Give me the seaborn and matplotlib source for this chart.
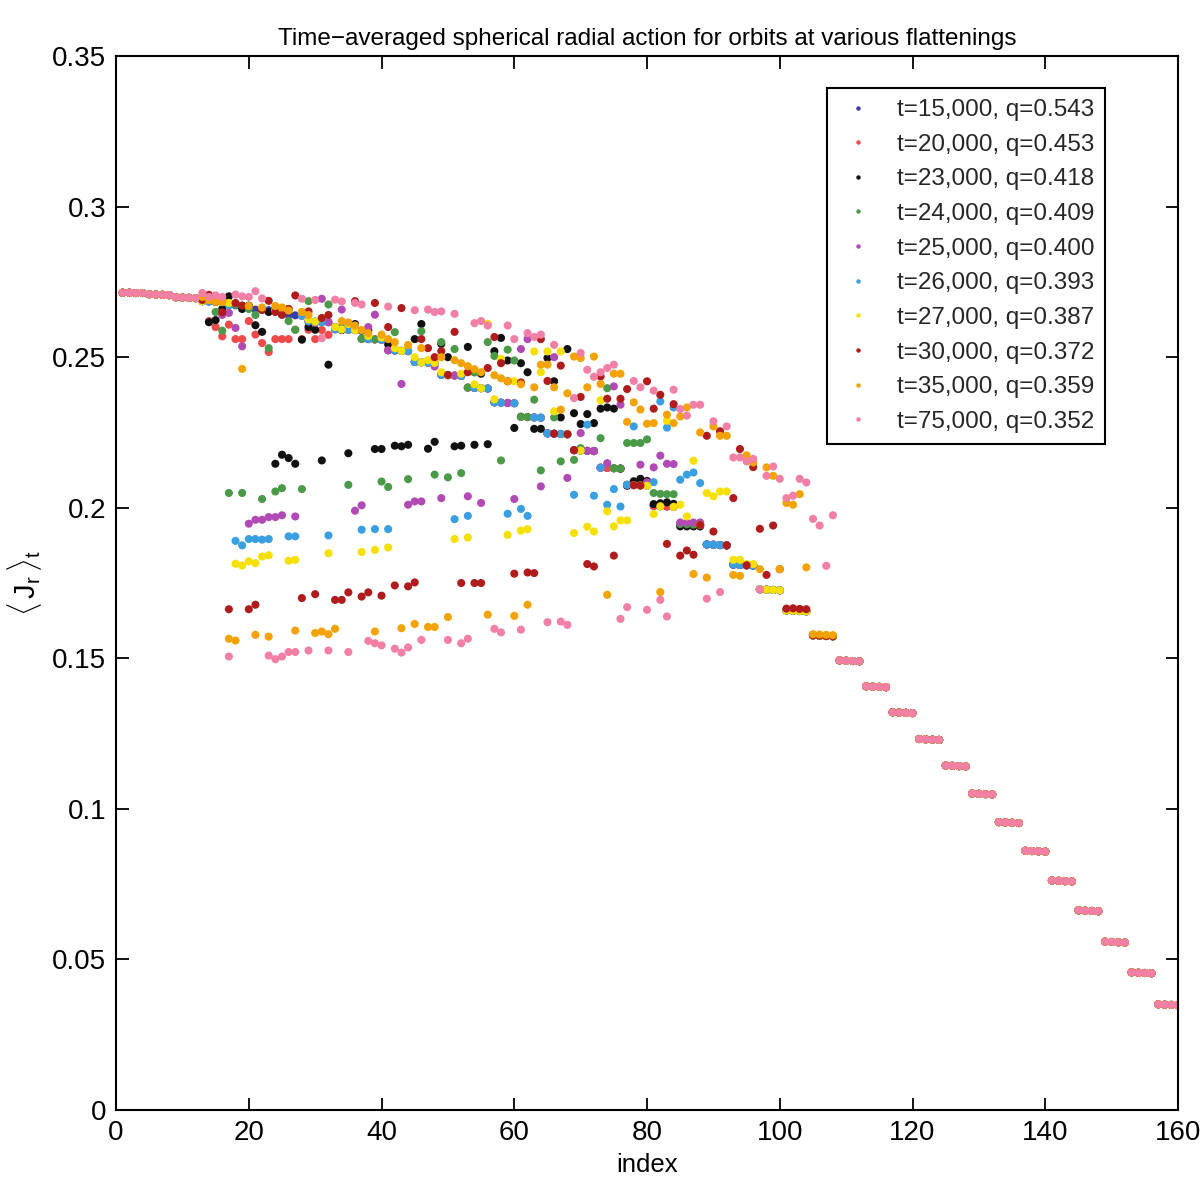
import numpy as np
import pandas as pd
import matplotlib
matplotlib.use("Agg")
import matplotlib.pyplot as plt
import seaborn as sns
from matplotlib.ticker import FormatStrFormatter, MultipleLocator

# ---------------- data (values in units of 1e-4) ----------------
# orbit index 1..12 (common to all runs)
HEAD = [2714, 2714, 2713, 2713, 2709, 2708, 2707, 2706, 2699, 2698, 2697, 2696]
# orbit index 109..160 (common to all runs)
TAIL = [1493, 1492, 1491, 1490, 1407, 1406, 1405, 1404, 1321, 1320, 1319, 1318,
        1232, 1231, 1230, 1229, 1144, 1143, 1142, 1141, 1051, 1050, 1049, 1048,
        956, 955, 954, 953, 861, 860, 859, 858, 762, 761, 760, 759,
        663, 662, 661, 660, 559, 558, 557, 556, 457, 456, 455, 454,
        351, 350, 349, 348]

# orbit index 13..108 for each run
MID_15000 = [2686, 2685, 2684, 2683, 2673, 2672, 2671, 2670, 2658, 2657, 2656, 2655,
             2641, 2640, 2639, 2638, 2619, 2618, 2617, 2616, 2593, 2592, 2591, 2590,
             2561, 2560, 2559, 2558, 2523, 2522, 2521, 2520, 2484, 2483, 2482, 2481,
             2441, 2440, 2439, 2438, 2399, 2398, 2397, 2396, 2350, 2349, 2348, 2347,
             2302, 2301, 2300, 2299, 2247, 2246, 2245, 2244, 2191, 2190, 2189, 2188,
             2133, 2132, 2131, 2130, 2076, 2075, 2074, 2073, 2006, 2005, 2004, 2003,
             1946, 1945, 1944, 1943, 1878, 1877, 1876, 1875, 1811, 1810, 1809, 1808,
             1729, 1728, 1727, 1726, 1659, 1658, 1657, 1656, 1576, 1575, 1574, 1573]
MID_20000 = [2686, 2620, 2600, 2569, 2608, 2560, 2560, 2620, 2575, 2547, 2517, 2560,
             2560, 2560, 2591, 2560, 2591, 2560, 2590, 2574, 2593, 2592, 2591, 2590,
             2561, 2560, 2559, 2558, 2523, 2522, 2521, 2520, 2484, 2483, 2482, 2481,
             2441, 2440, 2439, 2438, 2399, 2398, 2397, 2396, 2350, 2349, 2348, 2347,
             2302, 2301, 2300, 2299, 2247, 2246, 2245, 2244, 2191, 2190, 2189, 2188,
             2133, 2132, 2131, 2130, 2076, 2075, 2074, 2073, 2006, 2005, 2004, 2003,
             1946, 1945, 1944, 1943, 1878, 1877, 1876, 1875, 1811, 1810, 1809, 1808,
             1729, 1728, 1727, 1726, 1659, 1658, 1657, 1656, 1576, 1575, 1574, 1573]
MID_23000 = [2691, 2616, 2623, 2660, 2702, 2677, 2660, 2671, 2606, 2584, 2650, 2146,
             2176, 2165, 2146, 2558, 2600, 2591, 2157, 2475, 2600, 2590, 2181, 2610,
             2588, 2589, 2195, 2195, 2542, 2206, 2204, 2209, 2560, 2610, 2196, 2219,
             2544, 2500, 2204, 2206, 2534, 2209, 2445, 2211, 2520, 2564, 2489, 2265,
             2480, 2450, 2262, 2262, 2497, 2420, 2300, 2527, 2314, 2278, 2311, 2281,
             2329, 2333, 2329, 2130, 2073, 2088, 2096, 2089, 2012, 2015, 2018, 2013,
             1938, 1938, 1938, 1938, 1878, 1877, 1876, 1875, 1811, 1810, 1809, 1808,
             1729, 1728, 1727, 1726, 1659, 1658, 1657, 1656, 1576, 1575, 1574, 1573]
MID_24000 = [2686, 2685, 2650, 2588, 2049, 2674, 2049, 2660, 2640, 2029, 2530, 2054,
             2065, 2620, 2591, 2062, 2686, 2617, 2616, 2675, 2593, 2600, 2076, 2590,
             2561, 2570, 2559, 2087, 2069, 2583, 2521, 2095, 2484, 2586, 2482, 2110,
             2550, 2101, 2527, 2115, 2399, 2449, 2397, 2550, 2504, 2157, 2525, 2489,
             2302, 2301, 2359, 2124, 2247, 2300, 2154, 2244, 2159, 2198, 2189, 2189,
             2231, 2397, 2131, 2130, 2215, 2215, 2215, 2227, 2049, 2046, 2045, 2045,
             1946, 1945, 1944, 1943, 1878, 1877, 1876, 1875, 1811, 1810, 1809, 1808,
             1729, 1728, 1727, 1726, 1659, 1658, 1657, 1656, 1576, 1575, 1574, 1573]
MID_25000 = [2686, 2685, 2684, 2640, 2647, 2597, 2536, 1947, 1960, 1960, 1969, 1969,
             1975, 2660, 1971, 2638, 2619, 2614, 2694, 2616, 2593, 2658, 2591, 1990,
             2008, 2600, 2641, 2558, 2523, 2522, 2411, 2010, 2021, 2021, 2482, 2469,
             2032, 2440, 2439, 2438, 2038, 2398, 2016, 2396, 2350, 2349, 2348, 2029,
             2527, 2560, 2300, 2071, 2247, 2500, 2245, 2099, 2191, 2248, 2189, 2188,
             2133, 2148, 2403, 2342, 2076, 2075, 2143, 2085, 2134, 2173, 2146, 2145,
             1951, 1951, 1951, 1951, 1878, 1877, 1876, 1875, 1811, 1810, 1809, 1808,
             1729, 1728, 1727, 1726, 1659, 1658, 1657, 1656, 1576, 1575, 1574, 1573]
MID_26000 = [2686, 2685, 2684, 2683, 2673, 1890, 1875, 1896, 1896, 1894, 1896, 2655,
             2641, 1905, 1905, 2638, 2619, 2618, 2617, 1908, 2593, 2592, 2591, 2590,
             1927, 2560, 1929, 2558, 1929, 2522, 2521, 2520, 2484, 2483, 2482, 2481,
             2441, 2440, 1962, 2438, 1973, 2398, 2397, 2396, 2350, 2349, 1980, 2347,
             1996, 1973, 2300, 2299, 2247, 2246, 2245, 2244, 2043, 2190, 2276, 2040,
             2133, 2010, 2062, 2004, 2076, 2270, 2074, 2073, 2085, 2353, 2266, 2333,
             2093, 2110, 2117, 2082, 1878, 1877, 1876, 1875, 1811, 1810, 1809, 1808,
             1729, 1728, 1727, 1726, 1659, 1658, 1657, 1656, 1576, 1575, 1574, 1573]
MID_27000 = [2686, 2690, 2684, 2683, 2680, 1814, 1808, 1822, 1816, 1838, 1842, 2655,
             2660, 1824, 1827, 2650, 2625, 2618, 2630, 1849, 2600, 2592, 2610, 2590,
             1853, 2570, 1860, 2565, 1868, 2530, 2521, 2540, 2500, 2483, 2490, 2481,
             2450, 2440, 1896, 2445, 1901, 2410, 2397, 2611, 2360, 2494, 1910, 2420,
             1924, 1929, 2519, 2450, 2519, 2320, 2519, 2244, 1916, 2190, 1937, 1921,
             2357, 1988, 1938, 1958, 1958, 2075, 2074, 2073, 1979, 2005, 2289, 2003,
             2010, 1971, 2156, 1943, 2049, 2038, 2054, 2054, 1827, 1827, 1813, 1813,
             1729, 1728, 1727, 1726, 1659, 1658, 1657, 1656, 1576, 1575, 1574, 1573]
MID_30000 = [2690, 2707, 2684, 2649, 1663, 2680, 2671, 1663, 1678, 2657, 2687, 2650,
             2641, 2660, 2705, 1700, 2652, 1713, 2630, 2640, 1694, 1694, 1719, 2686,
             1705, 1719, 2680, 1708, 2600, 1742, 2663, 1739, 1752, 2560, 2530, 2500,
             2520, 2441, 2584, 1750, 2450, 1750, 1750, 2464, 2567, 2480, 2420, 1781,
             2416, 1785, 1783, 2560, 2421, 2246, 2472, 2244, 2191, 2368, 1813, 1805,
             2436, 2362, 1841, 2362, 2394, 2075, 2074, 2420, 2329, 2375, 1880, 2344,
             1841, 1858, 1844, 1943, 2239, 1921, 2254, 1875, 2032, 2195, 1809, 2135,
             1930, 1777, 1941, 1796, 1665, 1666, 1664, 1663, 1576, 1575, 1574, 1573]
MID_35000 = [2700, 2690, 2684, 2683, 1565, 1559, 2461, 2670, 1578, 2665, 1572, 2670,
             2665, 2655, 1592, 2650, 2640, 1584, 1589, 1580, 1598, 2620, 2615, 2605,
             2590, 2580, 1589, 2575, 2560, 2550, 1600, 2540, 1614, 2530, 1604, 1604,
             2500, 1637, 2490, 2480, 2470, 2460, 2450, 1645, 2440, 2430, 2420, 1641,
             2410, 1678, 2400, 2475, 2475, 2400, 2326, 2380, 2502, 2497, 2400, 2502,
             2411, 1711, 2445, 2445, 2285, 2350, 2326, 2279, 2281, 1720, 2309, 2281,
             2303, 2333, 1780, 2250, 1768, 2270, 2239, 2239, 1777, 1774, 2174, 2150,
             1796, 2134, 2106, 1796, 2016, 2010, 2045, 1802, 1580, 1579, 1578, 1577]
MID_75000 = [2713, 2700, 2705, 2700, 1506, 2708, 2702, 2700, 2719, 2695, 1509, 1497,
             1506, 1521, 1521, 2694, 1526, 2690, 2563, 1526, 2691, 2685, 1521, 2680,
             2675, 1558, 1550, 1543, 2668, 1532, 1519, 1536, 2656, 1561, 2658, 2650,
             2652, 1561, 2644, 1550, 1565, 2613, 2620, 2605, 1598, 1586, 2605, 2560,
             1595, 2580, 2567, 2575, 1620, 2541, 1622, 1611, 2364, 2514, 2458, 2435,
             2450, 2464, 2475, 1631, 1670, 2421, 2400, 1661, 2389, 1694, 1639, 2392,
             2328, 2306, 2342, 2342, 1698, 2287, 1720, 2270, 2167, 2167, 2154, 2162,
             1728, 2106, 2137, 2096, 2032, 2040, 2096, 2084, 1963, 1941, 1807, 1975]

LABELS = ["t=15,000, q=0.543", "t=20,000, q=0.453", "t=23,000, q=0.418",
          "t=24,000, q=0.409", "t=25,000, q=0.400", "t=26,000, q=0.393",
          "t=27,000, q=0.387", "t=30,000, q=0.372", "t=35,000, q=0.359",
          "t=75,000, q=0.352"]
MIDS = [MID_15000, MID_20000, MID_23000, MID_24000, MID_25000,
        MID_26000, MID_27000, MID_30000, MID_35000, MID_75000]
COLORS = ["#3c3ca6", "#f0494a", "#111111", "#4a9a48", "#b24ab6",
          "#3a9fe0", "#f6e000", "#b01c1c", "#f4a200", "#f27fa4"]

# ---------------- build table ----------------
rows = []
for lab, mid in zip(LABELS, MIDS):
    assert len(mid) == 96, (lab, len(mid))
    vals = np.array(HEAD + mid + TAIL) * 1e-4
    idx = np.arange(1, len(vals) + 1)
    rows.append(pd.DataFrame({"index": idx, "Jr": vals, "series": lab}))
df = pd.concat(rows, ignore_index=True)

# ---------------- plot ----------------
sns.set_style("ticks")
plt.rcParams["font.family"] = ["Liberation Sans", "DejaVu Sans"]
plt.rcParams["mathtext.fontset"] = "custom"
plt.rcParams["mathtext.rm"] = "Liberation Sans"
plt.rcParams["mathtext.it"] = "Liberation Sans"

fig = plt.figure(figsize=(12, 11.82), dpi=100)
ax = fig.add_axes([0.0967, 0.0609, 0.885, 0.8917])

sns.scatterplot(data=df, x="index", y="Jr", hue="series", hue_order=LABELS,
                palette=COLORS, s=34, linewidth=0, edgecolor="none", ax=ax)

ax.set_xlim(0, 160)
ax.set_ylim(0, 0.35)
ax.xaxis.set_major_locator(MultipleLocator(20))
ax.yaxis.set_major_locator(MultipleLocator(0.05))
ax.yaxis.set_major_formatter(FormatStrFormatter("%g"))
ax.tick_params(direction="in", top=True, right=True, length=9, width=1.3,
               labelsize=20, colors="black", pad=7)
for sp in ax.spines.values():
    sp.set_visible(True)
    sp.set_linewidth(1.5)
    sp.set_color("black")

ax.set_title("Time\u2212averaged spherical radial action for orbits at various flattenings",
             fontsize=17.5, pad=8, color="black")
ax.set_xlabel("index", fontsize=18.5, labelpad=5, color="black")
ax.set_ylabel(r"$\langle\,\mathrm{J}_\mathrm{r}\,\rangle_\mathrm{t}$", fontsize=21,
              labelpad=6, color="black")

sns.move_legend(ax, "upper right", bbox_to_anchor=(0.9313, 0.9696),
                borderaxespad=0, title=None, fontsize=17.5, frameon=True,
                fancybox=False, edgecolor="black", framealpha=1,
                markerscale=0.55, labelspacing=0.52, handletextpad=0.8,
                handlelength=1.6, borderpad=0.45)
leg = ax.get_legend()
leg.get_frame().set_linewidth(1.5)

fig.savefig("out.png", dpi=100)
